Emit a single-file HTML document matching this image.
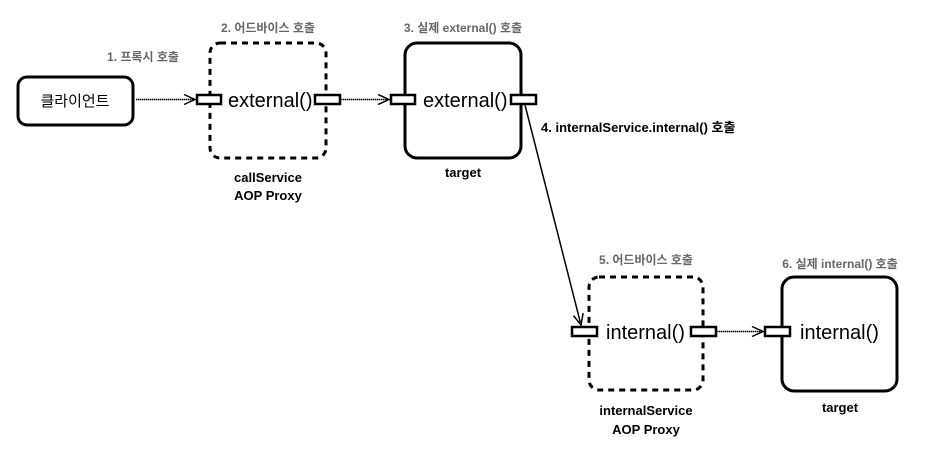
<!DOCTYPE html>
<html><head><meta charset="utf-8"><style>
html,body{margin:0;padding:0;background:#fff;width:944px;height:461px;overflow:hidden}
svg text{font-family:"Liberation Sans","Noto Sans CJK KR",sans-serif}
</style></head><body>
<svg width="944" height="461" viewBox="0 0 944 461" xmlns="http://www.w3.org/2000/svg">
<defs><marker id="a" markerWidth="14" markerHeight="12" refX="12" refY="6" orient="auto" markerUnits="userSpaceOnUse"><path d="M1,1 L12,6 L1,11" fill="none" stroke="#000" stroke-width="1.5"/></marker></defs>
<g fill="none" stroke="#000" stroke-width="3">
<rect x="18" y="77" width="115" height="48" rx="9"/>
<rect x="210" y="43" width="116" height="115" rx="10" stroke-dasharray="6,5"/>
<rect x="405" y="43" width="116" height="115" rx="12"/>
<rect x="589" y="277" width="114" height="113" rx="10" stroke-dasharray="6,5"/>
<rect x="782" y="277" width="115" height="114" rx="12"/>
</g>
<g fill="#fff" stroke="#000" stroke-width="2.5">
<rect x="197" y="95" width="24" height="9"/>
<rect x="315" y="95" width="25" height="9"/>
<rect x="391" y="95" width="24" height="9"/>
<rect x="511" y="95" width="25" height="9"/>
<rect x="572" y="327" width="25" height="9"/>
<rect x="691" y="327" width="25" height="9"/>
<rect x="765" y="327" width="25" height="9"/>
</g>
<g stroke="#000" stroke-width="1.5" fill="none" marker-end="url(#a)">
<line x1="136" y1="99.5" x2="195" y2="99.5" stroke-dasharray="1.5,0.5"/>
<line x1="341" y1="99.5" x2="389" y2="99.5" stroke-dasharray="1.5,0.5"/>
<line x1="525" y1="105" x2="581" y2="325"/>
<line x1="717" y1="331.5" x2="763" y2="331.5" stroke-dasharray="1.5,0.5"/>
</g>
<g font-size="20" fill="#000">
<text x="228" y="107">external()</text>
<text x="423" y="107">external()</text>
<text x="606" y="339">internal()</text>
<text x="800" y="339">internal()</text>
</g>
<text x="75" y="106" font-size="15" text-anchor="middle">클라이언트</text>
<g font-size="13" font-weight="bold" fill="#000" text-anchor="middle">
<text x="268" y="182">callService</text>
<text x="268" y="200">AOP Proxy</text>
<text x="463" y="177">target</text>
<text x="646" y="415">internalService</text>
<text x="646" y="434">AOP Proxy</text>
<text x="840" y="412">target</text>
</g>
<g font-size="12" font-weight="bold" fill="#666" text-anchor="middle">
<text x="143" y="61">1. 프록시 호출</text>
<text x="268" y="32">2. 어드바이스 호출</text>
<text x="463" y="32">3. 실제 external() 호출</text>
<text x="646" y="264">5. 어드바이스 호출</text>
<text x="840" y="268">6. 실제 internal() 호출</text>
</g>
<text x="541" y="132" font-size="13" font-weight="bold" fill="#000">4. internalService.internal() 호출</text>
</svg>
</body></html>
